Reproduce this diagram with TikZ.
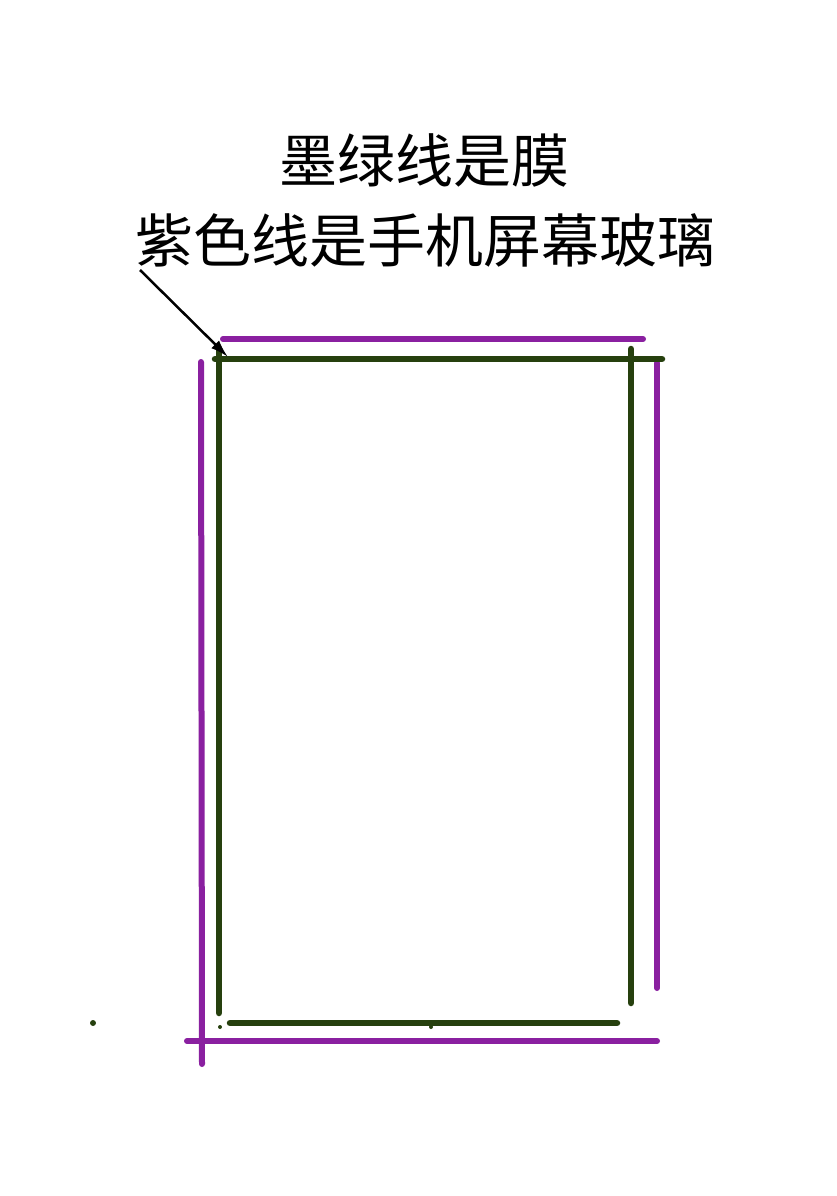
\documentclass[tikz,border=0pt]{standalone}
\usepackage{fontspec}
\newfontfamily\cjk{Noto Sans CJK SC}
\usetikzlibrary{arrows.meta}
\definecolor{filmgreen}{RGB}{38,64,14}
\definecolor{glasspurple}{RGB}{138,32,160}

\begin{document}
\begin{tikzpicture}[x=1pt,y=-1pt,
    film/.style = {filmgreen, line width=6.5pt, line cap=round},
    glass/.style = {glasspurple, line width=6pt, line cap=round},
    note/.style = {font=\cjk\fontsize{58}{60}\selectfont, inner sep=0pt},
    dot/.style = {circle, fill=filmgreen, minimum size=#1,
                inner sep=0pt, outer sep=0pt},
    dot/.default = 6pt
                    ]
        \useasboundingbox (0,0) rectangle (836,1196);
        \node[note] (title) at (424,160) {墨绿线是膜};
        \node[note] (legend) at (425,240) {紫色线是手机屏幕玻璃};
        % glass (purple)
        \foreach \xa/\ya/\xb/\yb in {223/339/643/339, 201/362/202/1064,
                                     657/363/657/988, 187/1041/657/1041}
            \draw[glass] (\xa,\ya) -- (\xb,\yb);
        % film (dark green)
        \foreach \xa/\ya/\xb/\yb in {215/359/662/359, 219/348/219/1013,
                                     631/349/631/1003, 230/1023/617/1023}
            \draw[film] (\xa,\ya) -- (\xb,\yb);
        % stray dots
        \node[dot] (d1) at (93,1023) {};
        \node[dot=4pt] (d2) at (220,1027) {};
        \node[dot=4pt] (d3) at (431,1027) {};
        % pointer to the corner
        \coordinate (tail) at (140,270);
        \coordinate (corner) at (228,357);
        \draw[-{Latex[length=18pt,width=11pt]}, line width=2.5pt] (tail) -- (corner);
    \end{tikzpicture}
\end{document}
